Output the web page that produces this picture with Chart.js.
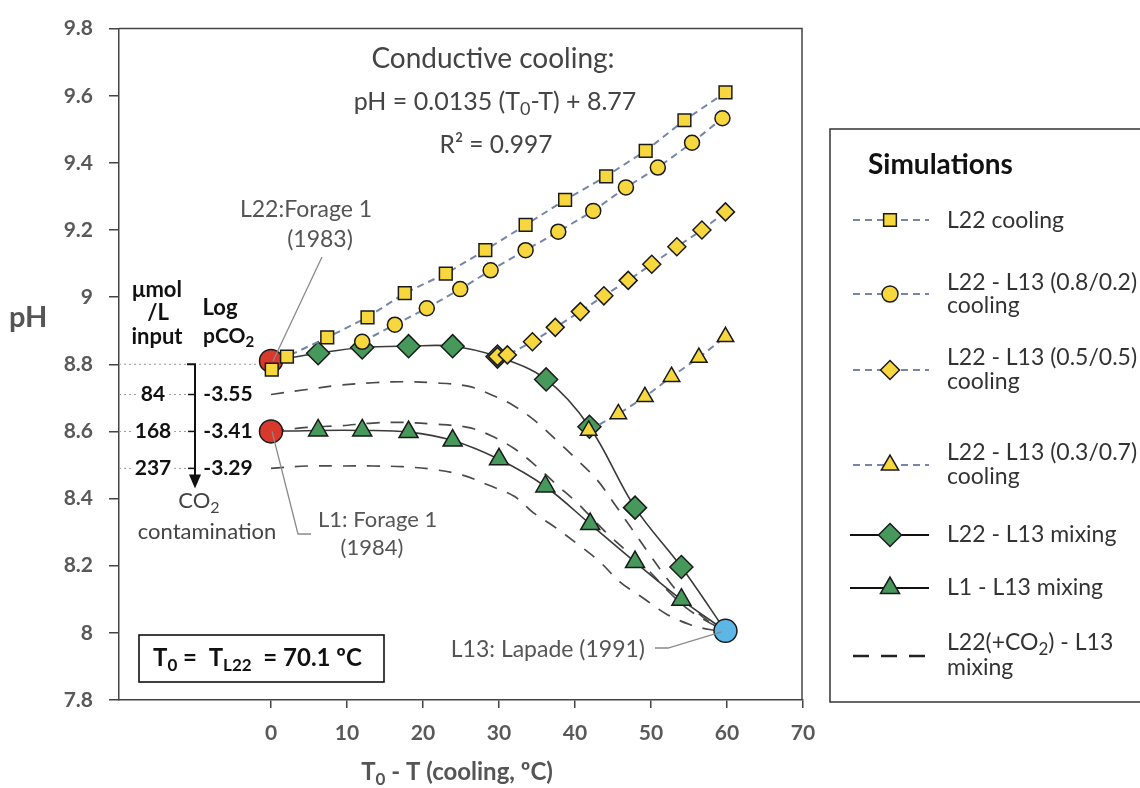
<!DOCTYPE html>
<html><head><meta charset="utf-8">
<script src="https://cdn.jsdelivr.net/npm/chart.js@4.4.0/dist/chart.umd.min.js"></script>
<style>html,body{margin:0;padding:0;background:#fff;}#wrap{width:1140px;height:788px;}</style>
</head><body><div id="wrap"><canvas id="c" width="1140" height="788"></canvas></div>
<script>
// ---- data ----
const xTicks = [0, 10, 20, 30, 40, 50, 60, 70];
const yTicks = [7.8, 8, 8.2, 8.4, 8.6, 8.8, 9, 9.2, 9.4, 9.6, 9.8];

const xL22Cool = [0.1, 2.1, 7.4, 12.7, 17.6, 23.0, 28.2, 33.5, 38.7, 44.1, 49.3, 54.4, 59.8];
const pHL22Cool = [8.784, 8.823, 8.88, 8.94, 9.012, 9.07, 9.14, 9.215, 9.29, 9.36, 9.436, 9.527, 9.61];

const xMix82Cool = [12.0, 16.3, 20.5, 24.9, 28.9, 33.5, 37.8, 42.4, 46.7, 50.9, 55.4, 59.4];
const pHMix82Cool = [8.867, 8.918, 8.967, 9.024, 9.08, 9.14, 9.195, 9.257, 9.327, 9.386, 9.46, 9.533];

const xMix55Cool = [29.8, 31.1, 34.4, 37.4, 40.7, 43.8, 47.0, 50.1, 53.4, 56.7, 59.8];
const pHMix55Cool = [8.823, 8.828, 8.867, 8.91, 8.957, 9.004, 9.05, 9.098, 9.15, 9.2, 9.254];

const xMix37Cool = [41.8, 45.7, 49.2, 52.7, 56.3, 59.8];
const pHMix37Cool = [8.603, 8.652, 8.703, 8.763, 8.82, 8.882];

const xL22Mix = [0, 6.2, 12.0, 18.1, 23.9, 29.8, 36.2, 41.9, 47.9, 54.0, 59.8];
const pHL22Mix = [8.81, 8.833, 8.85, 8.854, 8.854, 8.823, 8.755, 8.614, 8.373, 8.196, 8.006];

const xL1Mix = [0, 6.2, 12.0, 18.1, 23.9, 30.0, 36.1, 42.0, 47.9, 54.0, 59.8];
const pHL1Mix = [8.60, 8.603, 8.603, 8.598, 8.573, 8.517, 8.436, 8.324, 8.211, 8.099, 8.006];

const xCO2a = [0, 4.7, 9.1, 13.4, 17.3, 21.3, 25.9, 28.9, 32.0, 35.0, 37.6, 40.3, 42.9, 45.1, 47.5, 49.9, 52.1, 54.2, 56.4, 58.2, 59.8];
const pHCO2a = [8.71, 8.725, 8.738, 8.745, 8.748, 8.745, 8.735, 8.71, 8.676, 8.627, 8.573, 8.515, 8.456, 8.387, 8.309, 8.231, 8.162, 8.103, 8.055, 8.025, 8.006];

const xCO2b = [0, 4.7, 9.1, 13.4, 17.3, 21.3, 25.9, 28.9, 32.0, 35.0, 37.6, 40.3, 42.4, 44.5, 47.0, 49.5, 52.0, 54.6, 57.3, 59.8];
const pHCO2b = [8.60, 8.612, 8.617, 8.625, 8.627, 8.622, 8.612, 8.588, 8.549, 8.495, 8.441, 8.387, 8.338, 8.29, 8.24, 8.19, 8.13, 8.075, 8.035, 8.006];

const xCO2c = [0, 4.7, 9.1, 13.4, 17.3, 21.3, 25.2, 28.5, 32.0, 34.5, 37.1, 40.6, 43.3, 45.9, 49.0, 52.1, 55.1, 57.7, 59.8];
const pHCO2c = [8.49, 8.497, 8.497, 8.497, 8.495, 8.487, 8.47, 8.441, 8.407, 8.358, 8.319, 8.26, 8.211, 8.152, 8.103, 8.055, 8.025, 8.01, 8.006];

const xL22Sample = [0];  const pHL22Sample = [8.81];
const xL1Sample = [0];   const pHL1Sample = [8.60];
const xL13Sample = [59.8]; const pHL13Sample = [8.006];

const refPH = [8.71, 8.60, 8.49];
const refInput = ['84', '168', '237'];
const refLogP = ['-3.55', '-3.41', '-3.29'];

const legendLabels = [
  ['L22 cooling'],
  ['L22 - L13 (0.8/0.2)', 'cooling'],
  ['L22 - L13 (0.5/0.5)', 'cooling'],
  ['L22 - L13 (0.3/0.7)', 'cooling'],
  ['L22 - L13 mixing'],
  ['L1 - L13 mixing'],
  ['L22(+CO2) - L13', 'mixing']
];

// ---- styling ----
const FAM = 'Lato, "Open Sans", sans-serif';
const YEL = '#f7d73e', GRN = '#46995a', RED = '#d8392c', BLU = '#5cb6e6';
const COOL_LINE = '#7686a8';
const pts = (xs, ys) => xs.map((x, i) => ({x: x, y: ys[i]}));

function coolDS(label, xs, ys, style, r) {
  return {label, data: pts(xs, ys), showLine: true, borderColor: COOL_LINE, borderWidth: 2,
    borderDash: [7, 5], tension: 0, pointStyle: style, pointRadius: r, pointHoverRadius: r,
    pointBackgroundColor: YEL, pointBorderColor: '#1a1a1a', pointBorderWidth: 1.5};
}
function mixDS(label, xs, ys, style, r) {
  const last = xs.length - 1;
  return {label, data: pts(xs, ys), showLine: true, borderColor: '#3a3a3a', borderWidth: 1.6,
    tension: 0.35, pointStyle: style,
    pointRadius: c => (c.dataIndex === 0 || c.dataIndex === last) ? 0 : r,
    pointBackgroundColor: GRN, pointBorderColor: '#1a1a1a', pointBorderWidth: 1.5};
}
function co2DS(label, xs, ys) {
  return {label, data: pts(xs, ys), showLine: true, borderColor: '#4a4a4a', borderWidth: 1.7,
    borderDash: [13, 11], tension: 0.35, pointRadius: 0};
}
function sampleDS(label, xs, ys, color) {
  return {label, data: pts(xs, ys), showLine: false, pointStyle: 'circle', pointRadius: 11.5,
    pointBackgroundColor: color, pointBorderColor: '#1a1a1a', pointBorderWidth: 1.5};
}

const datasets = [
  coolDS('L22 cooling', xL22Cool, pHL22Cool, 'rect', 9),
  coolDS('L22 - L13 (0.8/0.2) cooling', xMix82Cool, pHMix82Cool, 'circle', 7.5),
  coolDS('L22 - L13 (0.5/0.5) cooling', xMix55Cool, pHMix55Cool, 'rectRot', 9),
  coolDS('L22 - L13 (0.3/0.7) cooling', xMix37Cool, pHMix37Cool, 'triangle', 9.5),
  sampleDS('L22', xL22Sample, pHL22Sample, RED),
  sampleDS('L1', xL1Sample, pHL1Sample, RED),
  sampleDS('L13', xL13Sample, pHL13Sample, BLU),
  mixDS('L22 - L13 mixing', xL22Mix, pHL22Mix, 'rectRot', 11.5),
  mixDS('L1 - L13 mixing', xL1Mix, pHL1Mix, 'triangle', 11),
  co2DS('L22(+CO2) - L13 mixing 84', xCO2a, pHCO2a),
  co2DS('L22(+CO2) - L13 mixing 168', xCO2b, pHCO2b),
  co2DS('L22(+CO2) - L13 mixing 237', xCO2c, pHCO2c)
];

// ---- text helpers ----
function drawRich(ctx, parts, x, y, size, weight, color, align) {
  let total = 0;
  const ws = parts.map(p => {
    ctx.font = `${weight} ${p[1] ? Math.round(size * 0.72) : size}px ${FAM}`;
    const w = ctx.measureText(p[0]).width; total += w; return w;
  });
  let cx = align === 'center' ? x - total / 2 : (align === 'right' ? x - total : x);
  ctx.fillStyle = color; ctx.textAlign = 'left'; ctx.textBaseline = 'middle';
  parts.forEach((p, i) => {
    ctx.font = `${weight} ${p[1] ? Math.round(size * 0.72) : size}px ${FAM}`;
    ctx.fillText(p[0], cx, p[1] ? y + size * 0.3 : y);
    cx += ws[i];
  });
  return total;
}
function txt(ctx, s, x, y, size, weight, color, align) {
  return drawRich(ctx, [[s, false]], x, y, size, weight, color, align || 'left');
}

const annot = {
  id: 'annot',
  beforeDraw(chart) {
    const c = chart.ctx; c.save(); c.fillStyle = '#fff'; c.fillRect(0, 0, chart.width, chart.height); c.restore();
  },
  beforeDatasetsDraw(chart) {
    const c = chart.ctx, a = chart.chartArea, xs = chart.scales.x, ys = chart.scales.y;
    c.save();
    c.strokeStyle = '#444'; c.lineWidth = 1.5;
    c.beginPath(); c.moveTo(a.left, a.top); c.lineTo(a.right - 1, a.top); c.lineTo(a.right - 1, a.bottom); c.stroke();
    c.strokeStyle = '#9a9a9a'; c.lineWidth = 1; c.setLineDash([2, 3]);
    c.beginPath(); c.moveTo(a.left, ys.getPixelForValue(8.8)); c.lineTo(xs.getPixelForValue(0) - 2, ys.getPixelForValue(8.8)); c.stroke();
    refPH.forEach(v => {
      const y = ys.getPixelForValue(v);
      c.beginPath(); c.moveTo(a.left, y); c.lineTo(xs.getPixelForValue(-10), y); c.stroke();
    });
    c.setLineDash([]);
    c.restore();
  },
  afterDatasetsDraw(chart) {
    const c = chart.ctx, xs = chart.scales.x, ys = chart.scales.y;
    c.save();
    c.strokeStyle = '#8a8a8a'; c.lineWidth = 1.3;
    c.beginPath(); c.moveTo(322, 257); c.lineTo(xs.getPixelForValue(0) + 2, ys.getPixelForValue(8.81)); c.stroke();
    c.beginPath(); c.moveTo(xs.getPixelForValue(0) + 1, ys.getPixelForValue(8.60)); c.lineTo(298, 534); c.lineTo(311, 534); c.stroke();
    c.beginPath(); c.moveTo(655, 648); c.lineTo(668, 648); c.lineTo(xs.getPixelForValue(59.8) - 4, ys.getPixelForValue(8.006) + 1); c.stroke();
    c.restore();
  },
  afterDraw(chart) {
    const c = chart.ctx, xs = chart.scales.x, ys = chart.scales.y;
    c.save();
    const G = '#444';
    txt(c, 'Conductive cooling:', 493, 59, 28, 'normal', G, 'center');
    drawRich(c, [['pH = 0.0135 (T', false], ['0', true], ['-T) + 8.77', false]], 495, 102, 25, 'normal', G, 'center');
    txt(c, 'R\u00B2 = 0.997', 496, 145, 24.5, 'normal', G, 'center');
    txt(c, 'L22:Forage 1', 306, 210, 23, 'normal', '#555', 'center');
    txt(c, '(1983)', 320, 240, 23, 'normal', '#555', 'center');
    txt(c, 'L1: Forage 1', 318, 520, 22, 'normal', '#555', 'left');
    txt(c, '(1984)', 372, 548, 22, 'normal', '#555', 'center');
    txt(c, 'L13: Lapade (1991)', 645, 650, 23, 'normal', '#555', 'right');
    const K = '#111';
    txt(c, '\u03BCmol', 157, 290, 22, 'bold', K, 'center');
    txt(c, '/L', 158, 313, 22, 'bold', K, 'center');
    txt(c, 'input', 157, 337, 22, 'bold', K, 'center');
    txt(c, 'Log', 220, 308, 22, 'bold', K, 'center');
    drawRich(c, [['pCO', false], ['2', true]], 203, 336, 21, 'bold', K, 'left');
    const ax = xs.getPixelForValue(-10);
    refPH.forEach((v, i) => {
      const y = ys.getPixelForValue(v);
      c.font = `bold 21px ${FAM}`;
      const w = c.measureText(refInput[i]).width;
      c.fillStyle = '#fff'; c.fillRect(153 - w / 2 - 3, y - 10, w + 6, 20);
      txt(c, refInput[i], 153, y, 21, 'bold', K, 'center');
      txt(c, refLogP[i], 228, y, 21, 'bold', K, 'center');
      c.strokeStyle = '#111'; c.lineWidth = 1.5;
      c.beginPath(); c.moveTo(ax - 7, y); c.lineTo(ax, y); c.stroke();
    });
    const yTop = ys.getPixelForValue(8.8), yTip = ys.getPixelForValue(8.43);
    c.strokeStyle = '#111'; c.lineWidth = 2;
    c.beginPath(); c.moveTo(ax - 8, yTop); c.lineTo(ax, yTop); c.lineTo(ax, yTip - 10); c.stroke();
    c.fillStyle = '#111';
    c.beginPath(); c.moveTo(ax - 6, yTip - 14); c.lineTo(ax + 6, yTip - 14); c.lineTo(ax, yTip); c.closePath(); c.fill();
    drawRich(c, [['CO', false], ['2', true]], 199, 501, 22, 'normal', G, 'center');
    txt(c, 'contamination', 207, 532, 22, 'normal', G, 'center');
    c.strokeStyle = '#111'; c.lineWidth = 1.6; c.strokeRect(139, 635, 245, 47);
    drawRich(c, [['T', false], ['0', true], [' =  T', false], ['L22', true], ['  = 70.1 \u00BAC', false]], 153, 658, 24, 'bold', K, 'left');
    txt(c, 'pH', 9, 318, 29, 'bold', '#555', 'left');
    drawRich(c, [['T', false], ['0', true], [' - T (cooling, \u00BAC)', false]], 457, 772, 24, 'bold', '#555', 'center');
    c.strokeStyle = '#333'; c.lineWidth = 1.5; c.strokeRect(830, 129, 330, 573);
    txt(c, 'Simulations', 868, 165, 28, 'bold', '#111', 'left');
    const H = Chart.helpers;
    const symX = 890, lx0 = 853, lx1 = 929, tx = 947;
    const rows = [
      {y: 220, t: [221], kind: 'cool', style: 'rect', r: 9, fill: YEL},
      {y: 294, t: [283, 306], kind: 'cool', style: 'circle', r: 8, fill: YEL},
      {y: 370, t: [358, 382], kind: 'cool', style: 'rectRot', r: 9.5, fill: YEL},
      {y: 465, t: [453, 477], kind: 'cool', style: 'triangle', r: 10, fill: YEL},
      {y: 535, t: [535], kind: 'mix', style: 'rectRot', r: 11.5, fill: GRN},
      {y: 588, t: [588], kind: 'mix', style: 'triangle', r: 11, fill: GRN},
      {y: 656, t: [643, 668], kind: 'co2'}
    ];
    rows.forEach((row, i) => {
      c.save();
      if (row.kind === 'cool') { c.strokeStyle = COOL_LINE; c.lineWidth = 2; c.setLineDash([7, 5]); }
      else if (row.kind === 'mix') { c.strokeStyle = '#111'; c.lineWidth = 2; }
      else { c.strokeStyle = '#222'; c.lineWidth = 2.6; c.setLineDash([16, 12]); }
      c.beginPath(); c.moveTo(row.kind === 'mix' ? 850 : lx0, row.y); c.lineTo(row.kind === 'co2' ? 937 : lx1, row.y); c.stroke();
      c.setLineDash([]);
      if (row.style) {
        c.fillStyle = row.fill; c.strokeStyle = '#1a1a1a'; c.lineWidth = 1.5;
        H.drawPoint(c, {pointStyle: row.style, radius: row.r, rotation: 0, borderWidth: 1.5}, symX, row.y);
      }
      c.restore();
      const lines = legendLabels[i];
      lines.forEach((s, j) => {
        if (s.indexOf('CO2') >= 0) {
          drawRich(c, [['L22(+CO', false], ['2', true], [') - L13', false]], tx, row.t[j], 23, 'normal', '#333', 'left');
        } else {
          txt(c, s, tx, row.t[j], 23, 'normal', '#333', 'left');
        }
      });
    });
    c.restore();
  }
};

const tickFont = {family: FAM, size: 21, weight: 'bold'};
new Chart(document.getElementById('c'), {
  type: 'scatter',
  data: {datasets},
  options: {
    responsive: false, animation: false, devicePixelRatio: 1,
    layout: {padding: {left: 0, right: 337, top: 19, bottom: 0}},
    plugins: {legend: {display: false}, tooltip: {enabled: false}},
    scales: {
      x: {
        type: 'linear', min: -20, max: 70,
        afterBuildTicks: s => { s.ticks = xTicks.map(v => ({value: v})); },
        afterFit: s => { s.height = 88; },
        ticks: {color: '#595959', font: tickFont, padding: 13, maxRotation: 0, autoSkip: false, callback: v => String(v)},
        grid: {drawOnChartArea: false, drawTicks: true, tickLength: 8, color: '#444', lineWidth: 1.5},
        border: {color: '#444', width: 1.5}
      },
      y: {
        type: 'linear', min: 7.8, max: 9.8,
        afterBuildTicks: s => { s.ticks = yTicks.map(v => ({value: v})); },
        afterFit: s => { s.width = 119; },
        ticks: {color: '#595959', font: tickFont, padding: 16, callback: v => String(Math.round(v * 10) / 10)},
        grid: {drawOnChartArea: false, drawTicks: true, tickLength: 10, color: '#444', lineWidth: 1.5},
        border: {color: '#444', width: 1.5}
      }
    }
  },
  plugins: [annot]
});
</script></body></html>
